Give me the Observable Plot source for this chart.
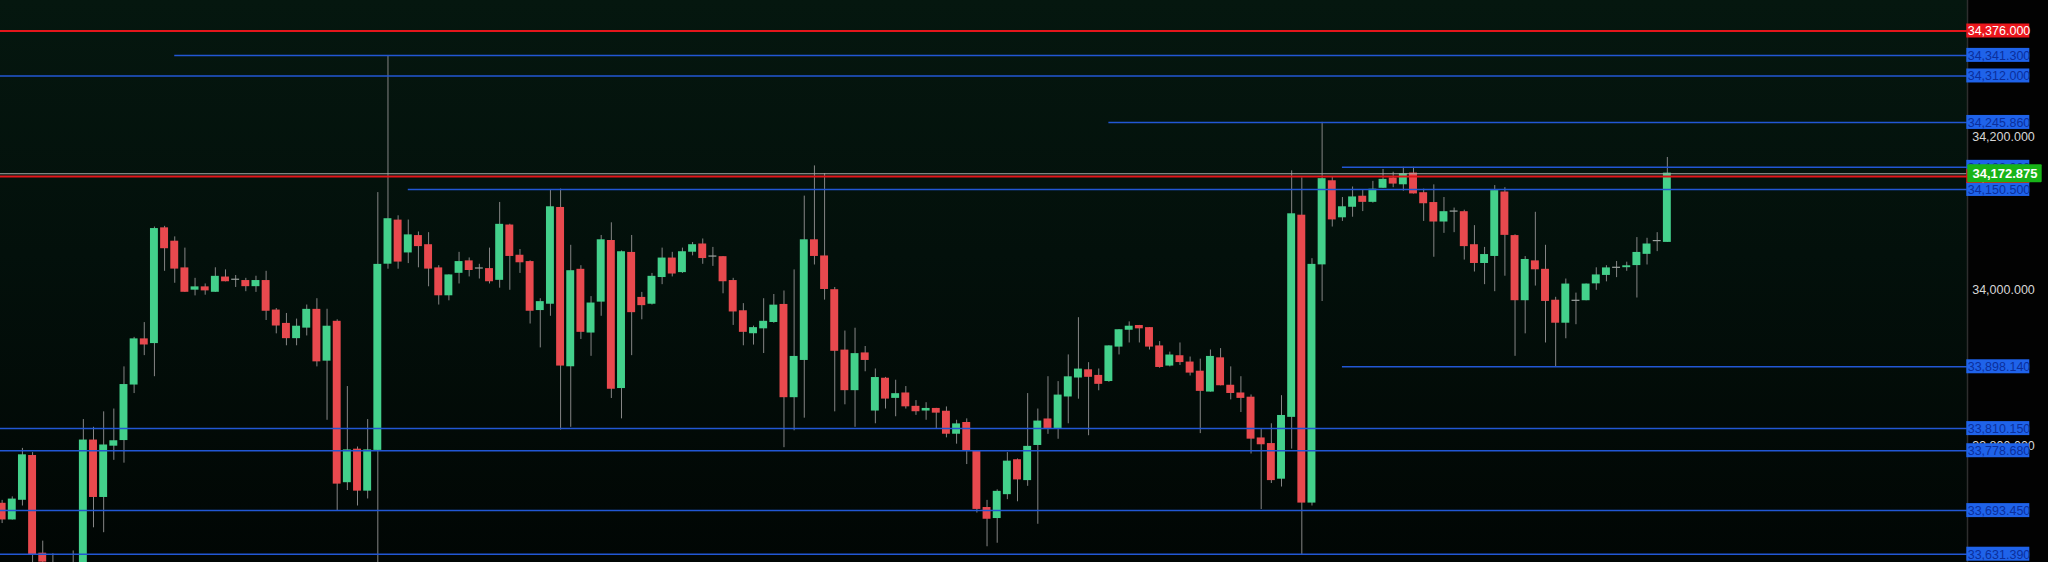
<!DOCTYPE html>
<html><head><meta charset="utf-8">
<script src="https://cdn.jsdelivr.net/npm/d3@7"></script>
<script src="https://cdn.jsdelivr.net/npm/@observablehq/plot@0.6"></script>
<style>
html,body{margin:0;padding:0;background:#000;overflow:hidden}
#chart svg{display:block}
</style></head><body><div id="chart"></div>
<script>
// ---- candle data (price values) ----
const opens = [33703,33681,33709,33771,33632,33616,33590,33580,33600,33793,33713,33786,33794,33873,33937,33932,34095,34076,34038,34008,
34011,34005,34025,34022,34020,34013,34020,33978,33959,33939,33954,33979,33907,33962,33734,33780,33722,33780,34045,34106,
34061,34084,34071,34038,34000,34032,34048,34038,34037,34022,34099,34056,34047,33979,33988,34124,33899,34036,33947,33991,
34077,33868,34060,33996,33988,34026,34052,34033,34062,34072,34055,34054,34020,33977,33946,33953,33962,33986,33855,33908,
34078,34055,34007,33921,33865,33917,33836,33881,33854,33860,33841,33836,33838,33834,33803,33818,33778,33697,33683,33717,
33765,33737,33787,33823,33810,33856,33883,33893,33885,33878,33927,33951,33956,33953,33927,33900,33913,33904,33891,33863,
33910,33871,33860,33854,33796,33788,33739,33827,34113,33705,34044,34162,34111,34126,34140,34133,34153,34166,34158,34173,
34145,34131,34105,34119,34118,34071,34046,34056,34146,34084,33993,34048,34036,33992,33961,33992,33993,34017,34029,34039,
34040,34043,34059,34077,34076];
const highs = [33708,33713,33782,33776,33650,33632,33605,33636,33823,33812,33834,33838,33898,33940,33961,34097,34098,34083,34067,34024,
34016,34039,34036,34028,34024,34027,34034,33981,33974,33966,33986,33995,33980,33965,33870,33784,33823,34146,34341,34113,
34107,34090,34089,34042,34029,34061,34053,34044,34067,34132,34101,34065,34049,33995,34149,34151,34071,34042,33998,34085,
34103,34063,34085,34004,34031,34067,34061,34067,34075,34080,34068,34055,34024,33988,33956,33995,34001,34006,34036,34141,
34184,34173,34011,33949,33953,33927,33895,33883,33879,33870,33850,33847,33839,33841,33822,33824,33779,33708,33723,33776,
33767,33860,33838,33884,33877,33915,33968,33904,33895,33928,33951,33962,33957,33954,33934,33919,33932,33912,33909,33922,
33924,33898,33884,33858,33810,33817,33857,34177,34167,34052,34246,34168,34139,34154,34149,34162,34179,34175,34182,34182,
34151,34157,34139,34124,34121,34099,34068,34156,34153,34086,34055,34118,34071,33997,34023,34003,34016,34039,34042,34048,
34047,34082,34081,34089,34196];
const lows = [33675,33680,33700,33603,33600,33560,33560,33570,33590,33669,33662,33765,33761,33860,33914,33884,34034,34017,34004,33999,
34000,34004,34019,34011,34005,34004,33964,33945,33928,33928,33942,33898,33822,33693,33722,33700,33710,33600,34037,34037,
34045,34039,34012,33986,33992,34016,34026,34023,34016,34010,34007,34031,33959,33925,33970,33808,33812,33937,33913,33970,
33853,33824,33914,33965,33986,34015,34026,34031,34056,34044,34041,34002,33957,33928,33929,33917,33960,33783,33807,33825,
34043,33993,33834,33844,33812,33891,33817,33838,33827,33838,33829,33822,33809,33797,33788,33759,33690,33642,33647,33709,
33706,33728,33674,33802,33795,33817,33852,33800,33864,33876,33915,33932,33932,33922,33896,33898,33900,33885,33803,33862,
33871,33851,33833,33774,33695,33732,33727,33781,33631,33700,33991,34097,34105,34111,34119,34131,34152,34153,34148,34144,
34105,34054,34088,34089,34050,34033,34015,34005,34027,33913,33945,34013,33932,33898,33938,33958,33992,34007,34019,34025,
34034,33996,34043,34062,34075];
const closes = [33681,33709,33772,33631,33621,33583,33575,33610,33793,33713,33786,33792,33872,33937,33930,34094,34067,34038,34005,34011,
34007,34026,34020,34022,34013,34020,33978,33957,33939,33955,33979,33906,33955,33732,33779,33722,33779,34043,34108,34048,
34085,34070,34038,34000,34028,34047,34036,34038,34020,34100,34056,34047,33978,33990,34125,33900,34034,33948,33988,34078,
33867,34061,33976,33986,34026,34052,34031,34061,34071,34053,34055,34020,33977,33948,33953,33962,33985,33855,33912,34078,
34056,34009,33921,33865,33916,33908,33882,33853,33859,33842,33835,33838,33833,33803,33816,33779,33696,33682,33720,33763,
33738,33784,33820,33811,33857,33883,33894,33884,33874,33927,33950,33955,33953,33927,33898,33914,33905,33890,33864,33912,
33872,33861,33854,33796,33788,33737,33828,34115,33705,34043,34165,34108,34125,34139,34133,34150,34164,34159,34172,34145,
34131,34105,34118,34119,34070,34046,34057,34148,34086,33993,34050,34037,33992,33961,34015,33992,34015,34028,34038,34039,
34041,34060,34072,34077,34172.875];

// ---- horizontal levels ----
const levelValues = [34376, 34341.3, 34312, 34245.86, 34182, 34169, 34150.5, 33898.14, 33810.15, 33778.68, 33693.45, 33631.39];
const levelStarts = [null, 17, null, 109, 132, null, 40, 132, null, null, null, null];
const levelKinds  = ["red","blue","blue","blue","blue","red","blue","blue","blue","blue","blue","blue"];
const levelLabels = ["34,376.000","34,341.300","34,312.000","34,245.860","34,182.000","34,169.000","34,150.500","33,898.140","33,810.150","33,778.680","33,693.450","33,631.390"];

const lastPrice = 34172.875;
const lastPriceLabel = "34,172.875";

// ---- axis ticks ----
const tickValues = [34200, 34000, 33800];
const tickLabels = ["34,200.000", "34,000.000", "33,800.000"];
const tickShift = [-18, -5, 10.5];

// ---- build ----
const candles = opens.map((o, i) => ({i, o, h: highs[i], l: lows[i], c: closes[i]}));
const X0 = -0.16, X1 = 193.56;
const levels = levelValues.map((v, k) => ({v, start: levelStarts[k] == null ? X0 : levelStarts[k], kind: levelKinds[k], label: levelLabels[k]}));
const ticks = tickValues.map((v, k) => ({v, label: tickLabels[k], shift: tickShift[k]}));

const GREEN = "#43d08b", RED = "#e8494e", DOJI = "#9da3a0";
const FONT = "Liberation Sans, Arial, sans-serif";
const lineStroke = {red: "#e3161b", blue: "#2257d4"};
const lineWidth = {red: 2, blue: 1.5};
const boxFill = {red: "#ea161c", blue: "#1f63ea"};
const boxText = {red: "#ffffff", blue: "#0b2f9c"};

const blues = levels.filter(d => d.kind === "blue");
const reds = levels.filter(d => d.kind === "red");

const chart = Plot.plot({
  width: 2048, height: 562,
  marginLeft: 0, marginRight: 81, marginTop: 0, marginBottom: 0,
  x: {type: "linear", domain: [X0, X1], axis: null},
  y: {domain: [33619.6, 34419.4], axis: null},
  style: {background: "linear-gradient(to bottom, #05170f 0%, #03100b 45%, #010604 100%)", overflow: "hidden"},
  marks: [
    // candle wicks and bodies
    Plot.ruleX(candles, {x: "i", y1: "l", y2: "h", stroke: "#858585", strokeWidth: 1, clip: true}),
    Plot.rect(candles, {x1: d => d.i - 0.39, x2: d => d.i + 0.39, y1: "o", y2: "c",
      insetTop: -0.6, insetBottom: -0.6,
      fill: d => d.c > d.o ? GREEN : d.c < d.o ? RED : DOJI, clip: true}),
    // level lines
    Plot.ruleY(blues, {y: "v", x1: "start", x2: X1, stroke: lineStroke.blue, strokeWidth: lineWidth.blue, clip: true}),
    Plot.ruleY([lastPrice], {y: d => d, x1: X0, x2: X1, stroke: "#a9aaa8", strokeWidth: 1.2, clip: true}),
    Plot.ruleY(reds, {y: "v", x1: "start", x2: X1, stroke: lineStroke.red, strokeWidth: lineWidth.red, clip: true}),
    // right price panel
    Plot.rect([0], {x1: X1, x2: X1 + 10, y1: 33619.6, y2: 34419.4, fill: "#020202"}),
    Plot.ruleX([X1], {x: d => d, stroke: "#2e2e2e", strokeWidth: 1.5}),
    // tick labels
    ...ticks.map(t => Plot.text([t], {x: X1, y: "v", text: "label", dx: 36, dy: t.shift,
      fill: "#d6d6d6", fontSize: 12.5, fontFamily: FONT, textAnchor: "middle", lineAnchor: "middle"})),
    // level label boxes
    Plot.rect(blues, {x1: X1, x2: X1, y1: "v", y2: "v", insetLeft: -0.7, insetRight: -62.3, insetTop: -7, insetBottom: -7, fill: boxFill.blue}),
    Plot.text(blues, {x: X1, y: "v", text: "label", dx: 31.5, dy: 0.5, fill: boxText.blue, fontSize: 12.5, fontFamily: FONT, textAnchor: "middle", lineAnchor: "middle"}),
    Plot.rect(reds, {x1: X1, x2: X1, y1: "v", y2: "v", insetLeft: -0.7, insetRight: -62.3, insetTop: -7, insetBottom: -7, fill: boxFill.red}),
    Plot.text(reds, {x: X1, y: "v", text: "label", dx: 31.5, dy: 0.5, fill: boxText.red, fontSize: 12.5, fontFamily: FONT, textAnchor: "middle", lineAnchor: "middle"}),
    // last price label
    Plot.rect([lastPrice], {x1: X1, x2: X1, y1: d => d, y2: d => d, insetLeft: 0.3, insetRight: -74.7, insetTop: -9, insetBottom: -9, fill: "#18b418", rx: 1}),
    Plot.text([lastPrice], {x: X1, y: d => d, text: () => lastPriceLabel, dx: 37.5, dy: 0.5, fill: "#ffffff", fontSize: 13, fontWeight: "bold", fontFamily: FONT, textAnchor: "middle", lineAnchor: "middle"})
  ]
});
document.getElementById("chart").appendChild(chart);
</script>
</body></html>
